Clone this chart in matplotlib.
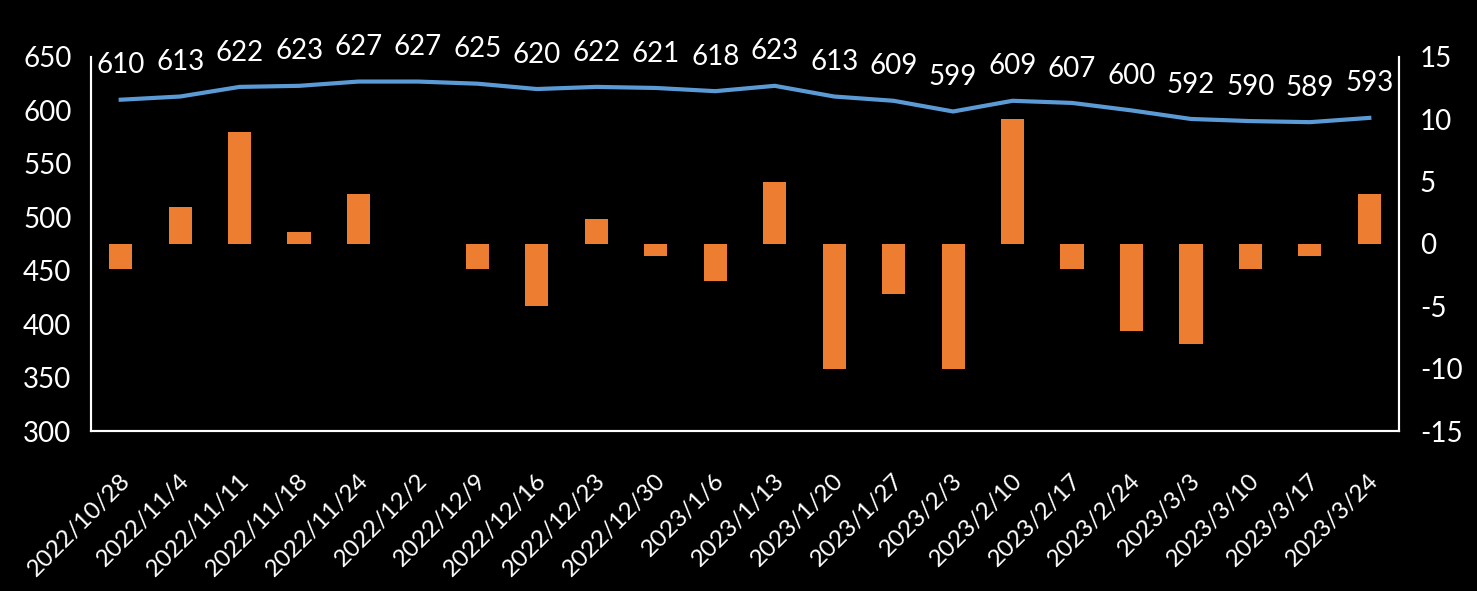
import matplotlib.pyplot as plt
import matplotlib.transforms as mtransforms
import numpy as np

dates = ["2022/10/28", "2022/11/4", "2022/11/11", "2022/11/18", "2022/11/24",
         "2022/12/2", "2022/12/9", "2022/12/16", "2022/12/23", "2022/12/30",
         "2023/1/6", "2023/1/13", "2023/1/20", "2023/1/27", "2023/2/3",
         "2023/2/10", "2023/2/17", "2023/2/24", "2023/3/3", "2023/3/10",
         "2023/3/17", "2023/3/24"]
level = [610, 613, 622, 623, 627, 627, 625, 620, 622, 621, 618, 623,
         613, 609, 599, 609, 607, 600, 592, 590, 589, 593]
change = [-2, 3, 9, 1, 4, 0, -2, -5, 2, -1, -3, 5,
          -10, -4, -10, 10, -2, -7, -8, -2, -1, 4]

LINE_COLOR = "#5B9BD5"
BAR_COLOR = "#ED7D31"

plt.rcParams["font.family"] = ["Lato", "DejaVu Sans"]
plt.rcParams["axes.unicode_minus"] = False

fig = plt.figure(figsize=(14.77, 5.91), dpi=100, facecolor="black")
ax = fig.add_axes([0.0616, 0.2707, 0.8856, 0.6329])
ax.set_facecolor("black")
ax2 = ax.twinx()

x = np.arange(len(dates))

# right axis: weekly change as bars
ax2.bar(x, change, width=0.39, color=BAR_COLOR, zorder=1)
ax2.set_ylim(-15, 15)
ax2.set_yticks([-15, -10, -5, 0, 5, 10, 15])

# left axis: level line with labels, drawn over the bars
ax.set_zorder(ax2.get_zorder() + 1)
ax.patch.set_visible(False)
ax.plot(x, level, color=LINE_COLOR, linewidth=3)
for xi, v in zip(x, level):
    ax.annotate(str(v), (xi, v), xytext=(0, 19), textcoords="offset points",
                ha="center", va="baseline", color="white", fontsize=20)
ax.set_ylim(300, 650)
ax.set_yticks(range(300, 651, 50))
ax.set_xlim(-0.5, len(dates) - 0.5)
ax.set_xticks(x)
ax.set_xticklabels(dates, rotation=45, ha="right", va="center",
                   rotation_mode="anchor")

for a in (ax, ax2):
    a.tick_params(colors="white", length=0, labelsize=20)
    a.spines["top"].set_visible(False)
    for s in ("left", "right", "bottom"):
        a.spines[s].set_color("white")
        a.spines[s].set_linewidth(1.5)
ax.tick_params(axis="x", labelsize=17.5, pad=33)
ax.tick_params(axis="y", pad=14)
ax2.tick_params(axis="y", pad=15)

# nudge rotated date labels a little to the right
shift = mtransforms.ScaledTranslation(6 / 100, 0, fig.dpi_scale_trans)
for lbl in ax.get_xticklabels():
    lbl.set_transform(lbl.get_transform() + shift)

fig.savefig("out.png", dpi=100, facecolor="black")
